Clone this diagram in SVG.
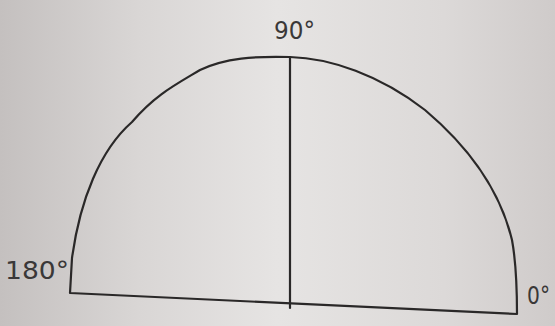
<svg xmlns="http://www.w3.org/2000/svg" width="555" height="326" viewBox="0 0 555 326">
<defs>
<linearGradient id="bg" x1="0" y1="0" x2="1" y2="0">
<stop offset="0" stop-color="#c4c0bf"/>
<stop offset="0.25" stop-color="#d9d6d5"/>
<stop offset="0.5" stop-color="#e6e4e3"/>
<stop offset="0.8" stop-color="#dcd9d8"/>
<stop offset="1" stop-color="#cfcbca"/>
</linearGradient>
</defs>
<style>
.ln{fill:none;stroke:#2a2828;stroke-width:2.2;stroke-linecap:round;stroke-linejoin:round}
.lb{font-family:"DejaVu Sans",sans-serif;font-size:25px;fill:#3a3838}
</style>
<rect width="555" height="326" fill="url(#bg)"/>
<g id="shape">
<path class="ln" d="M72,258 C80,200 100,150 132,122 C155,95 175,85 200,70 C225,58 255,56 290,57 C330,58 380,75 425,110 C470,148 500,190 512,240 C516,262 517,285 517,314 L70,293 L72,258"/>
</g>
<g id="connectors">
<path class="ln" d="M290,57 L290,308"/>
</g>
<g id="labels">
<text class="lb" x="274" y="39" textLength="41" lengthAdjust="spacingAndGlyphs">90°</text>
<text class="lb" x="5" y="279" textLength="64" lengthAdjust="spacingAndGlyphs">180°</text>
<text class="lb" x="527" y="304" textLength="23" lengthAdjust="spacingAndGlyphs">0°</text>
</g>
</svg>
